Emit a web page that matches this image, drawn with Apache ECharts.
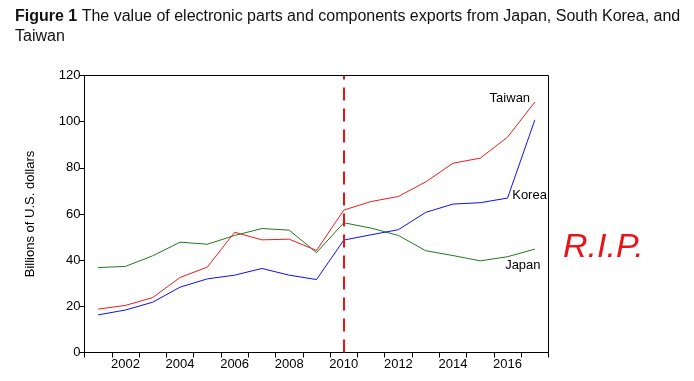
<!DOCTYPE html>
<html><head><meta charset="utf-8">
<script src="https://cdn.jsdelivr.net/npm/echarts@6/dist/echarts.min.js"></script>
<style>html,body{margin:0;padding:0;background:#fff}#c{width:694px;height:381px}</style>
</head><body><div id="c"></div>
<script>
const years = ['2001','2002','2003','2004','2005','2006','2007','2008','2009','2010','2011','2012','2013','2014','2015','2016','2017'];
const taiwan = [18.8,20.4,23.8,32.5,37.0,52.1,48.8,49.1,44.2,61.7,65.4,67.6,73.9,82.0,84.2,93.3,108.5];
const korea  = [16.3,18.4,21.8,28.3,31.9,33.5,36.4,33.5,31.6,48.7,51.0,53.2,60.7,64.3,64.9,66.9,100.8];
const japan  = [36.8,37.3,41.9,47.8,46.9,50.7,53.7,53.0,43.3,56.2,53.9,50.7,44.1,42.0,39.7,41.5,44.8];
const yTicks = [0,20,40,60,80,100,120];
const markYear = '2010';

const font = 'Liberation Sans, Arial, sans-serif';
const chart = echarts.init(document.getElementById('c'), null, {renderer:'canvas'});
function mp(name, x, y, off){
  return {symbol:'circle', symbolSize:0, silent:true,
    data:[{coord:[x,y], label:{show:true, position:'inside', formatter:name, offset:off, color:'#000', fontSize:13, fontFamily:font}}]};
}
chart.setOption({
  animation:false,
  backgroundColor:'#fff',
  title:{
    left:10, top:2,
    text:'{b|Figure 1} The value of electronic parts and components exports from Japan, South Korea, and\nTaiwan',
    textStyle:{fontSize:16, fontWeight:'normal', color:'#111', fontFamily:font, lineHeight:20,
      rich:{b:{fontWeight:'bold', fontSize:16, fontFamily:font, color:'#111', lineHeight:20}}}
  },
  grid:{left:84.5, right:145.5, top:75.5, bottom:28.5, show:true, borderColor:'#000', borderWidth:1, backgroundColor:'transparent'},
  xAxis:{type:'category', data:years, boundaryGap:true,
    axisLine:{lineStyle:{color:'#000', width:1}},
    axisTick:{show:true, interval:0, length:5, lineStyle:{color:'#000'}},
    axisLabel:{interval:(i)=>i%2===1, color:'#000', fontSize:13, fontFamily:font, margin:5},
    splitLine:{show:false}},
  yAxis:{type:'value', min:yTicks[0], max:yTicks[yTicks.length-1], interval:20,
    name:'Billions of U.S. dollars', nameLocation:'middle', nameGap:48, nameRotate:90,
    nameTextStyle:{color:'#000', fontSize:13, fontFamily:font},
    axisLine:{show:true, lineStyle:{color:'#000', width:1}},
    axisTick:{show:true, length:5, lineStyle:{color:'#000'}},
    axisLabel:{color:'#000', fontSize:13, fontFamily:font, margin:4},
    splitLine:{show:false}},
  series:[
    {name:'Japan', type:'line', data:japan, symbol:'none', lineStyle:{color:'#1f7a1f', width:1}, itemStyle:{color:'#1f7a1f'},
      markPoint:mp('Japan', years[16], japan[16], [-12,16])},
    {name:'Korea', type:'line', data:korea, symbol:'none', lineStyle:{color:'#1010ee', width:1}, itemStyle:{color:'#1010ee'},
      markPoint:mp('Korea', years[15], korea[15], [22,-3])},
    {name:'Taiwan', type:'line', data:taiwan, symbol:'none', lineStyle:{color:'#ee1c1c', width:1}, itemStyle:{color:'#ee1c1c'},
      markPoint:mp('Taiwan', years[16], taiwan[16], [-25,-4]),
      markLine:{silent:true, symbol:'none', label:{show:false},
        lineStyle:{color:'#ee1111', width:2, type:[13,8]},
        data:[{xAxis:markYear}]}}
  ],
  graphic:[{type:'text', left:563, top:231, style:{text:'R.I.P.', fontSize:34, fontFamily:'Liberation Sans, sans-serif', fontStyle:'italic', fontWeight:'normal', fill:'#e8141b'}}]
});
</script></body></html>
